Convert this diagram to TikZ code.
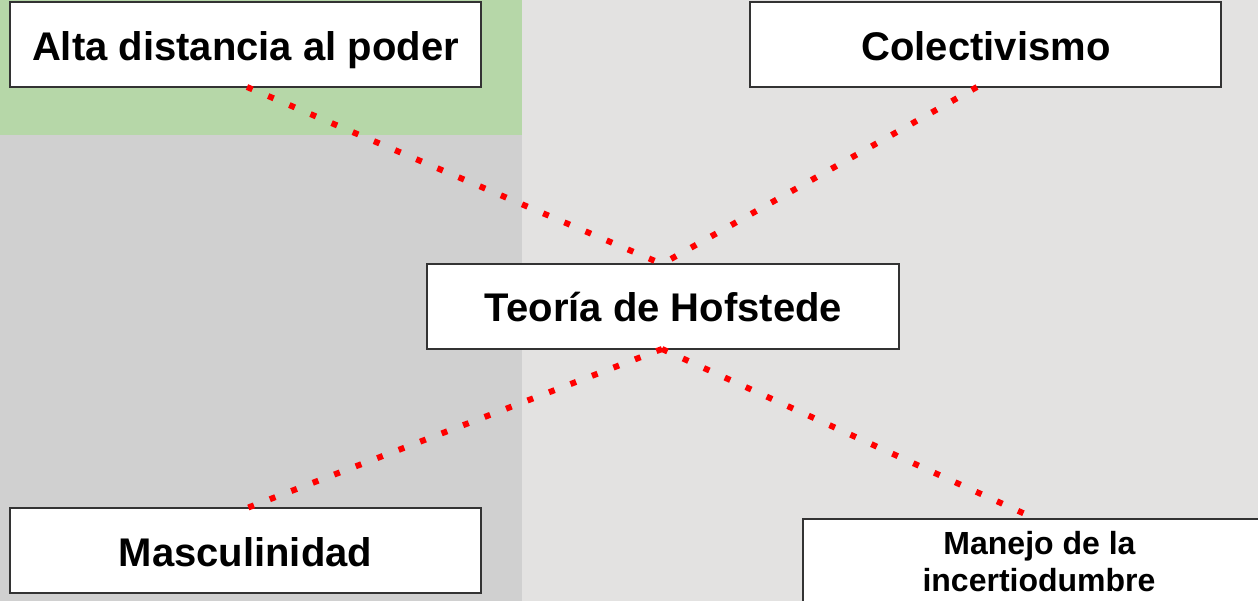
\documentclass[tikz,border=0pt]{standalone}
\usepackage{fontspec}
\setmainfont{Liberation Sans}
\usetikzlibrary{calc}
\definecolor{bggreen}{HTML}{B6D7A8}
\definecolor{bggray}{HTML}{D0D0D0}
\definecolor{bglight}{HTML}{E3E2E1}
\definecolor{boxline}{HTML}{333333}
\definecolor{dotred}{HTML}{FF0000}
\begin{document}
\begin{tikzpicture}[x=1pt,y=-1pt,
  box/.style={draw=boxline, line width=2pt, fill=white, inner sep=0pt, outer sep=0pt,
              minimum width=471pt, minimum height=85pt},
  lbl/.style={anchor=base, font=\bfseries\fontsize{40}{48}\selectfont, inner sep=0pt},
  lblsmall/.style={anchor=base, font=\bfseries\fontsize{32}{37}\selectfont, inner sep=0pt},
  dotline/.style={draw=dotred, line width=6pt, dash pattern=on 6pt off 17pt}]
\useasboundingbox (0,0) rectangle (1258,601);
\clip (0,0) rectangle (1258,601);
% backgrounds
\fill[bglight] (522,0) rectangle (1258,601);
\fill[bggray] (0,135) rectangle (522,601);
\fill[bggreen] (0,0) rectangle (522,135);
% boxes
\node[box] (alta) at (245.5,44.5) {};
\node[lbl] (altat) at (245.5,61) {Alta distancia al poder};
\node[box] (col) at (985.5,44.5) {};
\node[lbl] (colt) at (986,61) {Colectivismo};
\node[box, minimum width=472pt] (hof) at (663,306.5) {};
\node[lbl] (hoft) at (663.5,322) {Teoría de Hofstede};
\node[box] (mas) at (245.5,550.5) {};
\node[lbl] (mast) at (245.5,566) {Masculinidad};
\node[box, minimum width=472pt] (man) at (1039,561.5) {};
\node[lblsmall] (mant1) at (1039.5,554) {Manejo de la};
\node[lblsmall] (mant2) at (1039,591) {incertiodumbre};
% connectors
\draw[dotline] ($(alta.south)+(1.5,0)$) -- ($(hof.north)+(-1,0)$);
\draw[dotline] ($(col.south)+(-8.5,0)$) -- ($(hof.north)+(-1,0)$);
\draw[dotline] ($(hof.south)+(-1,0)$) -- ($(mas.north)+(1.5,0)$);
\draw[dotline] ($(hof.south)+(-1,0)$) -- ($(man.north)+(-3,0)$);
\end{tikzpicture}
\end{document}
